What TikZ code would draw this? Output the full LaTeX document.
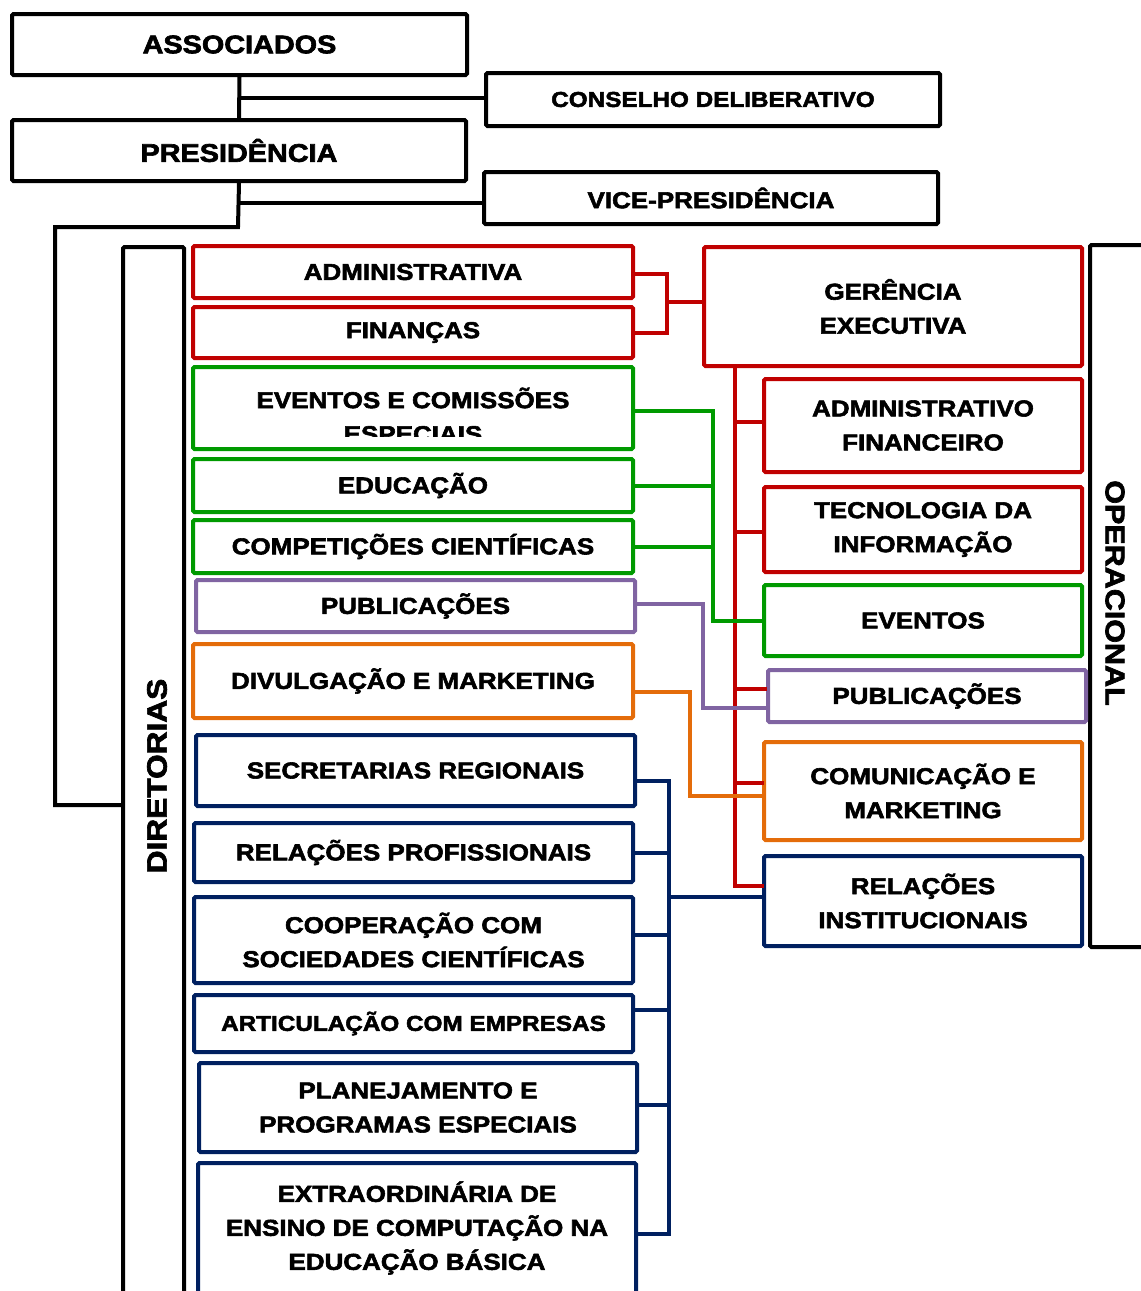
\documentclass[tikz,border=0pt]{standalone}
\usepackage{fontspec}
\setmainfont{Liberation Sans}[FakeStretch=1.15]
\newfontfamily\heavy{Liberation Sans Bold}[FakeStretch=1.13, FakeBold=2.5]
\definecolor{cred}{HTML}{C00000}
\definecolor{cgreen}{HTML}{009A00}
\definecolor{cpurple}{HTML}{8064A2}
\definecolor{corange}{HTML}{E46C0A}
\definecolor{cnavy}{HTML}{002060}
\tikzset{
  box/.style={draw, line width=4pt, rounded corners=1.5pt, align=center, inner sep=0pt,
    font=\heavy\fontsize{23}{34}\selectfont},
  txt/.style={align=center, inner sep=0pt, font=\heavy\fontsize{23}{34}\selectfont},
  conn/.style={line width=4pt, line cap=rect},
}
\begin{document}
\begin{tikzpicture}[x=1pt,y=-1pt]
\useasboundingbox (0,0) rectangle (1141,1291);
\clip (0,0) rectangle (1141,1291);

% top
\node[box, minimum width=455, minimum height=61, font=\heavy\fontsize{25.5}{30}\selectfont] (assoc) at (239.5,44.5) {ASSOCIADOS};
\node[box, minimum width=454, minimum height=61, font=\heavy\fontsize{25.5}{30}\selectfont] (pres) at (239,150.5) {PRESIDÊNCIA};
\node[box, minimum width=454, minimum height=53, font=\heavy\fontsize{21.5}{30}\selectfont] (cons) at (713,99.5) {CONSELHO DELIBERATIVO};
\node[box, minimum width=454, minimum height=52] (vice) at (711,198) {VICE-PRESIDÊNCIA};

% side frames
\node[box, minimum width=61, minimum height=1200] (dir) at (153.5,847) {};
\node[txt, rotate=90, font=\heavy\fontsize{28}{30}\selectfont] (dirt) at (157,776) {DIRETORIAS};
\node[box, minimum width=120, minimum height=702] (oper) at (1150,596) {};
\node[txt, rotate=-90, font=\heavy\fontsize{27}{30}\selectfont] (opert) at (1115,593) {OPERACIONAL};

% left column
\node[box, cred, text=black, minimum width=440, minimum height=52] (adm) at (413,272) {ADMINISTRATIVA};
\node[box, cred, text=black, minimum width=440, minimum height=51] (fin) at (413,332.5) {FINANÇAS};
\node[box, cgreen, minimum width=440, minimum height=82] (evc) at (413,408) {};
\begin{scope}
  \clip (195,369) rectangle (631,436);
  \node[txt] (evct) at (413,415) {EVENTOS E COMISSÕES\\ESPECIAIS};
\end{scope}
\node[box, cgreen, text=black, minimum width=440, minimum height=53] (edu) at (413,485.5) {EDUCAÇÃO};
\node[box, cgreen, text=black, minimum width=440, minimum height=53] (comp) at (413,546.5) {COMPETIÇÕES CIENTÍFICAS};
\node[box, cpurple, text=black, minimum width=439, minimum height=52] (pub) at (415.5,606) {PUBLICAÇÕES};
\node[box, corange, text=black, minimum width=440, minimum height=74] (div) at (413,681) {DIVULGAÇÃO E MARKETING};
\node[box, cnavy, text=black, minimum width=439, minimum height=71] (sec) at (415.5,770.5) {SECRETARIAS REGIONAIS};
\node[box, cnavy, text=black, minimum width=439, minimum height=59] (rp) at (413.5,852.5) {RELAÇÕES PROFISSIONAIS};
\node[box, cnavy, text=black, minimum width=439, minimum height=86] (coop) at (413.5,940) {COOPERAÇÃO COM\\SOCIEDADES CIENTÍFICAS};
\node[box, cnavy, text=black, minimum width=439, minimum height=57, font=\heavy\fontsize{21.5}{30}\selectfont] (art) at (413.5,1023.5) {ARTICULAÇÃO COM EMPRESAS};
\node[box, cnavy, text=black, minimum width=438, minimum height=89] (plan) at (418,1107.5) {PLANEJAMENTO E\\PROGRAMAS ESPECIAIS};
\node[box, cnavy, minimum width=438, minimum height=200] (ext) at (417,1263) {};
\node[txt] (extt) at (417,1228) {EXTRAORDINÁRIA DE\\ENSINO DE COMPUTAÇÃO NA\\EDUCAÇÃO BÁSICA};

% right column
\node[box, cred, text=black, minimum width=378, minimum height=119] (ger) at (893,306.5) {GERÊNCIA\\EXECUTIVA};
\node[box, cred, text=black, minimum width=318, minimum height=93] (af) at (923,425.5) {ADMINISTRATIVO\\FINANCEIRO};
\node[box, cred, text=black, minimum width=318, minimum height=85] (ti) at (923,529.5) {TECNOLOGIA DA\\INFORMAÇÃO};
\node[box, cgreen, text=black, minimum width=318, minimum height=71] (ev) at (923,620.5) {EVENTOS};
\node[box, cpurple, text=black, minimum width=318, minimum height=52] (pub2) at (927,696) {PUBLICAÇÕES};
\node[box, corange, text=black, minimum width=318, minimum height=98] (com) at (923,791) {COMUNICAÇÃO E\\MARKETING};
\node[box, cnavy, text=black, minimum width=318, minimum height=90] (ri) at (923,901) {RELAÇÕES\\INSTITUCIONAIS};

% junction coordinates
\coordinate (rj) at (667,302);
\coordinate (rv) at (735,0);
\coordinate (gv) at (713,0);
\coordinate (pv) at (703,0);
\coordinate (ov) at (690,0);
\coordinate (nv) at (669,0);
\coordinate (b1) at (238,227);
\coordinate (b2) at (55,805);
\coordinate (pstub) at (765,689);
\coordinate (extj) at (636,1234);

% black connectors
\draw[conn] (assoc.south) -- (pres.north);
\draw[conn] ([yshift=1.5pt]assoc.south |- cons.west) -- ([yshift=1.5pt]cons.west);
\draw[conn] (pres.south) -- (b1) -| (b2) -- (b2 -| dir.west);
\draw[conn] ([yshift=-5pt]vice.west -| pres.south) -- ([yshift=-5pt]vice.west);

% red connectors
\draw[conn, cred] ([yshift=-2pt]adm.east) -| (rj) |- (fin.east);
\draw[conn, cred] (rj) -- (rj -| ger.west);
\draw[conn, cred] (ger.south -| rv) -- ([yshift=15pt]rv |- ri.west) -- ([yshift=15pt]ri.west);
\draw[conn, cred] ([yshift=4pt]rv |- af.west) -- ([yshift=4pt]af.west);
\draw[conn, cred] ([yshift=-2pt]rv |- ti.west) -- ([yshift=-2pt]ti.west);
\draw[conn, cred] (rv |- pstub) -- (pstub);
\draw[conn, cred] ([yshift=8pt]rv |- com.west) -- ([yshift=8pt]com.west);

% green connectors
\draw[conn, cgreen] ([yshift=-3pt]evc.east) -- ([yshift=-3pt]evc.east -| gv) |- (ev.west);
\draw[conn, cgreen] (edu.east) -- (edu.east -| gv);
\draw[conn, cgreen] (comp.east) -- (comp.east -| gv);

% purple connector
\draw[conn, cpurple] ([yshift=2pt]pub.east) -- ([yshift=2pt]pub.east -| pv) |- ([yshift=-12pt]pub2.west);

% orange connector
\draw[conn, corange] ([yshift=-11pt]div.east) -- ([yshift=-11pt]div.east -| ov) |- ([yshift=-5pt]com.west);

% navy connectors
\draw[conn, cnavy] ([yshift=-10pt]sec.east) -- ([yshift=-10pt]sec.east -| nv) -- (nv |- extj) -- (extj);
\draw[conn, cnavy] (rp.east) -- (rp.east -| nv);
\draw[conn, cnavy] ([yshift=5pt]coop.east) -- ([yshift=5pt]coop.east -| nv);
\draw[conn, cnavy] ([yshift=14pt]art.east) -- ([yshift=14pt]art.east -| nv);
\draw[conn, cnavy] ([yshift=3pt]plan.east) -- ([yshift=3pt]plan.east -| nv);
\draw[conn, cnavy] ([yshift=4pt]nv |- ri.west) -- ([yshift=4pt]ri.west);
\end{tikzpicture}
\end{document}
